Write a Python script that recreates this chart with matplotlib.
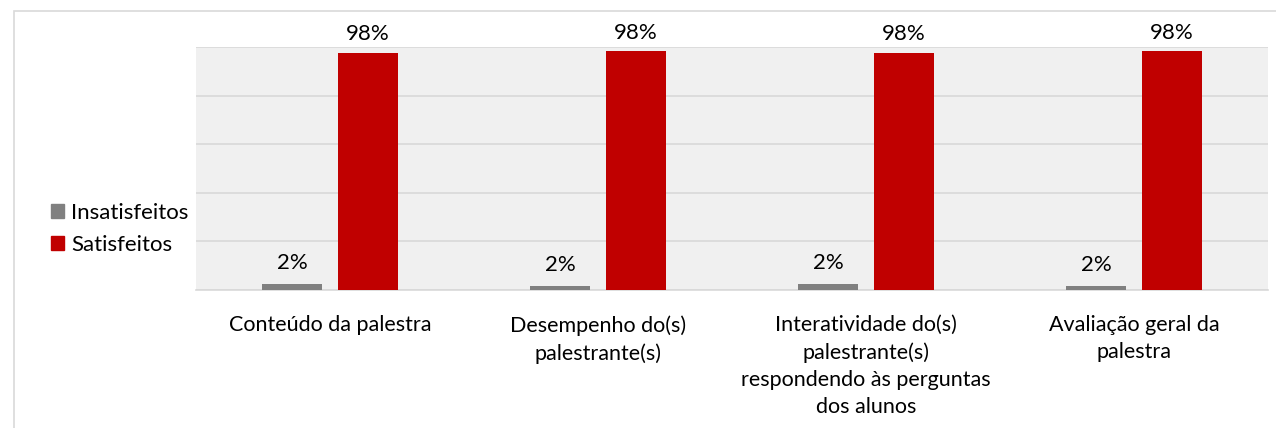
import matplotlib.pyplot as plt
from matplotlib.patches import Rectangle, Patch

# categories and values (percent)
categories = ["Conteúdo da palestra",
              "Desempenho do(s)\npalestrante(s)",
              "Interatividade do(s)\npalestrante(s)\nrespondendo às perguntas\ndos alunos",
              "Avaliação geral da\npalestra"]
insatisfeitos = [2.4, 1.6, 2.4, 1.6]
satisfeitos = [97.6, 98.4, 97.6, 98.4]
labels_ins = ["2%", "2%", "2%", "2%"]
labels_sat = ["98%", "98%", "98%", "98%"]

grey = "#808080"
red = "#C00000"

plt.rcParams['font.family'] = ['Lato', 'DejaVu Sans']

fig = plt.figure(figsize=(12.76, 4.28), dpi=100)

# outer chart border
fig.patches.append(Rectangle((14/1276, -0.1), 1.2, 1 - 11/428 + 0.1,
                             transform=fig.transFigure, fill=False,
                             edgecolor="#D9D9D9", linewidth=1.2))

ax = fig.add_axes([196/1276, 138/428, 1072/1276, 243/428])
ax.set_facecolor("#F0F0F0")

x = list(range(len(categories)))
w = 0.224
off = 0.142
b1 = ax.bar([i - off for i in x], insatisfeitos, width=w, color=grey, zorder=3)
b2 = ax.bar([i + off for i in x], satisfeitos, width=w, color=red, zorder=3)

for bar, t in zip(b1, labels_ins):
    ax.annotate(t, (bar.get_x() + bar.get_width()/2, bar.get_height()),
                xytext=(0, 8), textcoords="offset points",
                ha="center", va="bottom", fontsize=16, color="#000000")
for bar, t in zip(b2, labels_sat):
    ax.annotate(t, (bar.get_x() + bar.get_width()/2, bar.get_height()),
                xytext=(0, 6), textcoords="offset points",
                ha="center", va="bottom", fontsize=16, color="#000000",
                annotation_clip=False)

ax.set_xlim(-0.5, len(categories) - 0.5)
ax.set_ylim(0, 100)
ax.set_yticks([0, 20, 40, 60, 80, 100])
ax.yaxis.grid(True, color="#D9D9D9", linewidth=1.2, zorder=0)
ax.tick_params(axis="y", left=False, labelleft=False)
ax.set_xticks(x)
ax.set_xticklabels(categories, fontsize=15.5, linespacing=1.45)
ax.tick_params(axis="x", length=0, pad=18)
for s in ["top", "right", "left"]:
    ax.spines[s].set_visible(False)
ax.spines["bottom"].set_color("#D9D9D9")
ax.spines["bottom"].set_linewidth(1.2)

handles = [Patch(color=grey, label="Insatisfeitos"),
           Patch(color=red, label="Satisfeitos")]
fig.legend(handles=handles, loc="center left",
           bbox_to_anchor=(31/1276, 1 - 229/428), frameon=False,
           fontsize=16, handlelength=0.6, handleheight=0.6,
           handletextpad=0.3, labelspacing=0.55)

fig.savefig("out.png", dpi=100)
